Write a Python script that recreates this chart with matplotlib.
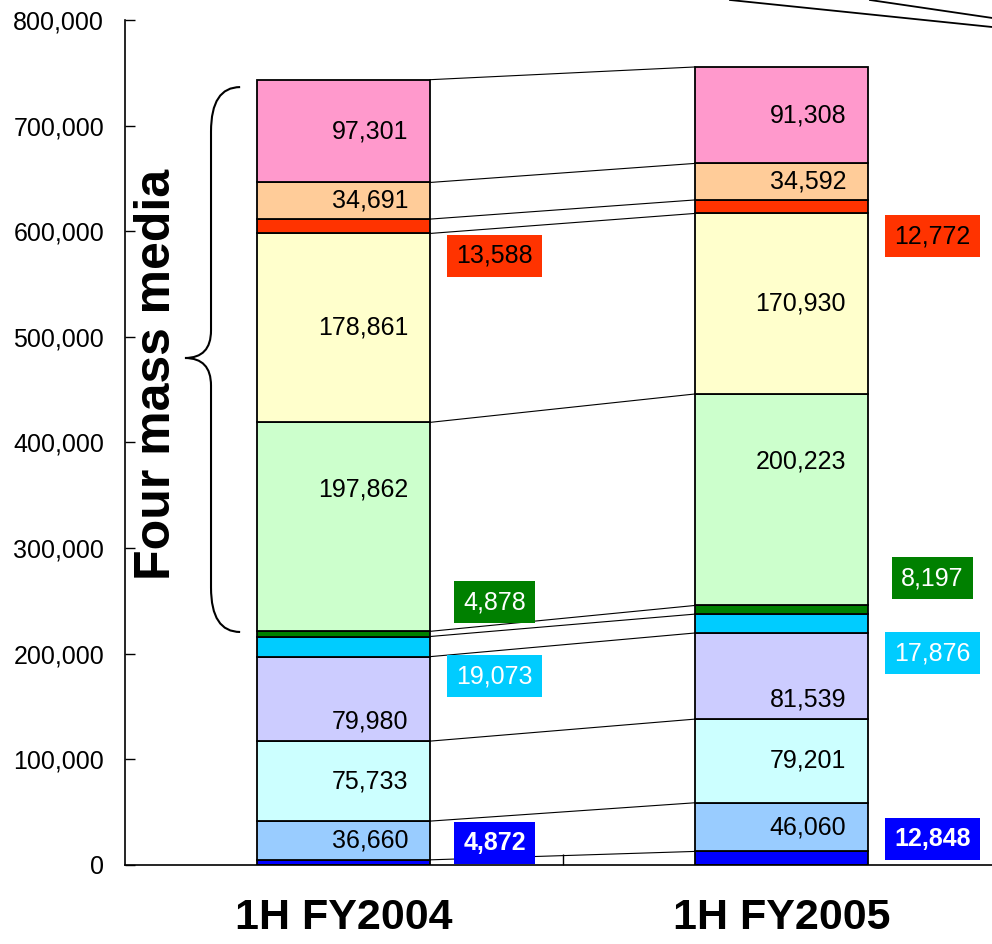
import numpy as np
import matplotlib
matplotlib.use("Agg")
import matplotlib.pyplot as plt
from matplotlib.path import Path
from matplotlib.patches import PathPatch
from matplotlib.lines import Line2D
from matplotlib.ticker import FuncFormatter

plt.rcParams["font.family"] = ["Liberation Sans", "DejaVu Sans"]

# ---- data (bottom -> top of each stack) ----
periods = ["1H FY2004", "1H FY2005"]
fy2004 = [4872, 36660, 75733, 79980, 19073, 4878, 197862, 178861, 13588, 34691, 97301]
fy2005 = [12848, 46060, 79201, 81539, 17876, 8197, 200223, 170930, 12772, 34592, 91308]
colors = ["#0000ff", "#99ccff", "#ccffff", "#ccccff", "#00ccff", "#008000",
          "#ccffcc", "#ffffcc", "#ff3300", "#ffcc99", "#ff99cc"]

# label style per segment: ("in", vertical fraction) or ("box", offset from centre, text colour, bold)
label_style = [("box", 18000, "white", True), ("in", 0.5), ("in", 0.5), ("in", 0.23),
               ("box", -28000, "white", False), ("box", 30000, "white", False),
               ("in", 0.68), ("in", 0.5), ("box", -28000, "black", False),
               ("in", 0.5), ("in", 0.5)]

vals = np.array([fy2004, fy2005], float)
x = np.arange(len(periods))
w = 0.395
FS = 18

fig = plt.figure(figsize=(9.92, 9.44), dpi=100)
ax = fig.add_axes([0.126, 0.0837, 0.874, 0.8951])

bottoms = np.zeros(len(periods))
tops_all = []
for k in range(vals.shape[1]):
    v = vals[:, k]
    ax.bar(x, v, w, bottom=bottoms, color=colors[k], edgecolor="black", linewidth=1.3, zorder=2)
    st = label_style[k]
    for i in range(len(periods)):
        txt = f"{int(v[i]):,}"
        if st[0] == "in":
            ax.text(x[i] + w / 2 - 0.05, bottoms[i] + v[i] * st[1], txt, ha="right",
                    va="center", fontsize=FS, color="black", zorder=4)
        else:
            ax.text(x[i] + 0.345, bottoms[i] + v[i] / 2 + st[1], txt, ha="center", va="center",
                    fontsize=FS, color=st[2], fontweight="bold" if st[3] else "normal", zorder=4,
                    bbox=dict(boxstyle="square,pad=0.36", fc=colors[k], ec="none"))
    bottoms = bottoms + v
    tops_all.append(bottoms.copy())

# connector lines between the two stacks at every boundary
for t in tops_all:
    ax.plot([x[0] + w / 2, x[1] - w / 2], [t[0], t[1]], color="black", lw=0.8, zorder=1)

# brace around the four mass media segments
y_top = tops_all[-1][0] - 7000
y_bot = tops_all[5][0] - 600
y_mid = 480000
xe, xv, xt = -0.236, -0.3025, -0.362
r, r2 = 42000, 26000
verts = [(xe, y_top), (xv, y_top), (xv, y_top - r),
         (xv, y_mid + r2),
         (xv, y_mid), (xt, y_mid),
         (xv, y_mid), (xv, y_mid - r2),
         (xv, y_bot + r),
         (xv, y_bot), (xe, y_bot)]
codes = [Path.MOVETO, Path.CURVE3, Path.CURVE3, Path.LINETO, Path.CURVE3, Path.CURVE3,
         Path.CURVE3, Path.CURVE3, Path.LINETO, Path.CURVE3, Path.CURVE3]
ax.add_patch(PathPatch(Path(verts, codes), fc="none", ec="black", lw=1.5, zorder=3))
ax.text(-0.426, 464000, "Four mass media", rotation=90, ha="center", va="center",
        fontsize=36, fontweight="bold", zorder=4)

# axes styling
ax.set_xlim(-0.4989, 1.4806)
ax.set_ylim(0, 800000)
ax.set_yticks(np.arange(0, 800001, 100000))
ax.yaxis.set_major_formatter(FuncFormatter(lambda v, p: f"{int(v):,}"))
ax.tick_params(axis="y", direction="in", length=7, width=1, labelsize=FS, pad=15)
ax.set_xticks(x)
ax.set_xticklabels(periods, fontsize=31, fontweight="bold")
ax.tick_params(axis="x", which="major", length=0, pad=24)
ax.set_xticks([0.5], minor=True)
ax.tick_params(axis="x", which="minor", direction="in", length=8, width=1)
for s in ["top", "right"]:
    ax.spines[s].set_visible(False)
for s in ["left", "bottom"]:
    ax.spines[s].set_linewidth(1.2)

# leader lines coming in from outside the frame (top right)
fig.add_artist(Line2D([0.7359, 1.0], [1.0, 0.9714], color="black", lw=1.3))
fig.add_artist(Line2D([0.877, 1.0], [1.0, 0.981], color="black", lw=1.3))

fig.savefig("out.png", dpi=100, facecolor="white")
